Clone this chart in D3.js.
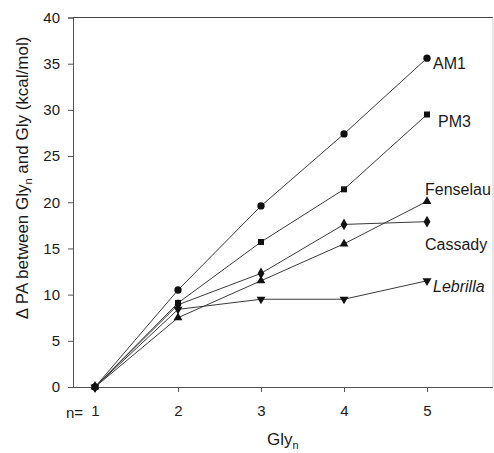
<!DOCTYPE html>
<html>
<head>
<meta charset="utf-8">
<script src="https://cdn.jsdelivr.net/npm/d3@7"></script>
<style>
  body { margin: 0; background: #fff; }
  svg { display: block; font-family: Arial, "Liberation Sans", sans-serif; }
</style>
</head>
<body>
<svg id="chart" width="494" height="453"></svg>
<script>
const nValues = [1, 2, 3, 4, 5];
const am1 = [0, 10.5, 19.6, 27.4, 35.6];
const pm3 = [0, 9.1, 15.7, 21.4, 29.5];
const fenselau = [0, 7.5, 11.5, 15.5, 20.1];
const cassady = [0, 8.9, 12.3, 17.6, 17.9];
const lebrilla = [0, 8.4, 9.5, 9.5, 11.5];
const yTicks = [0, 5, 10, 15, 20, 25, 30, 35, 40];
const seriesNames = ["AM1", "PM3", "Fenselau", "Cassady", "Lebrilla"];
const seriesValues = [am1, pm3, fenselau, cassady, lebrilla];
const seriesSymbols = [d3.symbolCircle, d3.symbolSquare, d3.symbolTriangle, d3.symbolDiamond, d3.symbolTriangle];

const svg = d3.select("#chart");
const mLeft = 73, mRight = 493, mTop = 17.5, mBottom = 387;
const x = d3.scaleLinear().domain([0.735, 5.795]).range([mLeft, mRight]);
const y = d3.scaleLinear().domain([0, 40]).range([mBottom, mTop]);
const axisColor = "#555";
const textColor = "#1a1a1a";

// frame top/right
svg.append("line").attr("x1", mLeft).attr("x2", mRight).attr("y1", mTop).attr("y2", mTop)
  .attr("stroke", "#444").attr("stroke-width", 1);
svg.append("line").attr("x1", mRight).attr("x2", mRight).attr("y1", mTop).attr("y2", mBottom)
  .attr("stroke", "#ccc").attr("stroke-width", 1);

// y axis
const yAxis = svg.append("g").attr("transform", `translate(${mLeft},0)`)
  .call(d3.axisLeft(y).tickValues(yTicks).tickSize(5).tickPadding(8).tickFormat(d3.format("d")));
yAxis.selectAll("path, line").attr("stroke", axisColor);
yAxis.selectAll("text").attr("font-size", 15).attr("fill", textColor).attr("font-family", "Arial, 'Liberation Sans', sans-serif");

// x axis
const xAxis = svg.append("g").attr("transform", `translate(0,${mBottom})`)
  .call(d3.axisBottom(x).tickValues(nValues).tickSize(5).tickPadding(13).tickFormat(d3.format("d")));
xAxis.select("path").attr("d", `M${mLeft},0.5H${mRight}`);
xAxis.selectAll("path, line").attr("stroke", axisColor);
xAxis.selectAll("text").attr("font-size", 15).attr("fill", textColor).attr("font-family", "Arial, 'Liberation Sans', sans-serif");

svg.append("text").attr("x", 83).attr("y", 418).attr("text-anchor", "end")
  .attr("font-size", 15).attr("fill", textColor).text("n=");

// lines + markers
const line = d3.line().x((d, i) => x(nValues[i])).y(d => y(d));
seriesValues.forEach((vals, si) => {
  svg.append("path").datum(vals).attr("d", line)
    .attr("fill", "none").attr("stroke", "#3a3a3a").attr("stroke-width", 1);
});
const sizes = [42, 36, 34, 40, 34];
seriesValues.forEach((vals, si) => {
  svg.selectAll(null).data(vals).enter().append("path")
    .attr("d", d3.symbol().type(seriesSymbols[si]).size(sizes[si]))
    .attr("transform", (d, i) => `translate(${x(nValues[i])},${y(d)})` + (si === 4 ? " rotate(180)" : ""))
    .attr("fill", "#111");
});

// series labels
const labelPos = [
  { dx: 6, dy: 10.5, italic: false },
  { dx: 11, dy: 13, italic: false },
  { dx: -2, dy: -6, italic: false },
  { dx: -2, dy: 28, italic: false },
  { dx: 6, dy: 11, italic: true }
];
seriesNames.forEach((name, si) => {
  const vals = seriesValues[si];
  svg.append("text")
    .attr("x", x(5) + labelPos[si].dx)
    .attr("y", y(vals[4]) + labelPos[si].dy)
    .attr("font-size", 16).attr("fill", textColor)
    .attr("font-style", labelPos[si].italic ? "italic" : "normal")
    .text(name);
});

// x axis title
const xt = svg.append("text").attr("x", 267).attr("y", 445).attr("font-size", 17).attr("fill", textColor);
xt.append("tspan").text("Gly");
xt.append("tspan").attr("font-size", 11).attr("dy", 4).text("n");

// y axis title
const yt = svg.append("text").attr("transform", `translate(28,178) rotate(-90)`)
  .attr("text-anchor", "middle").attr("font-size", 17).attr("fill", textColor);
yt.append("tspan").text("\u0394 PA between Gly");
yt.append("tspan").attr("font-size", 11).attr("dy", 4).text("n");
yt.append("tspan").attr("dy", -4).text("  and Gly (kcal/mol)");
</script>
</body>
</html>
